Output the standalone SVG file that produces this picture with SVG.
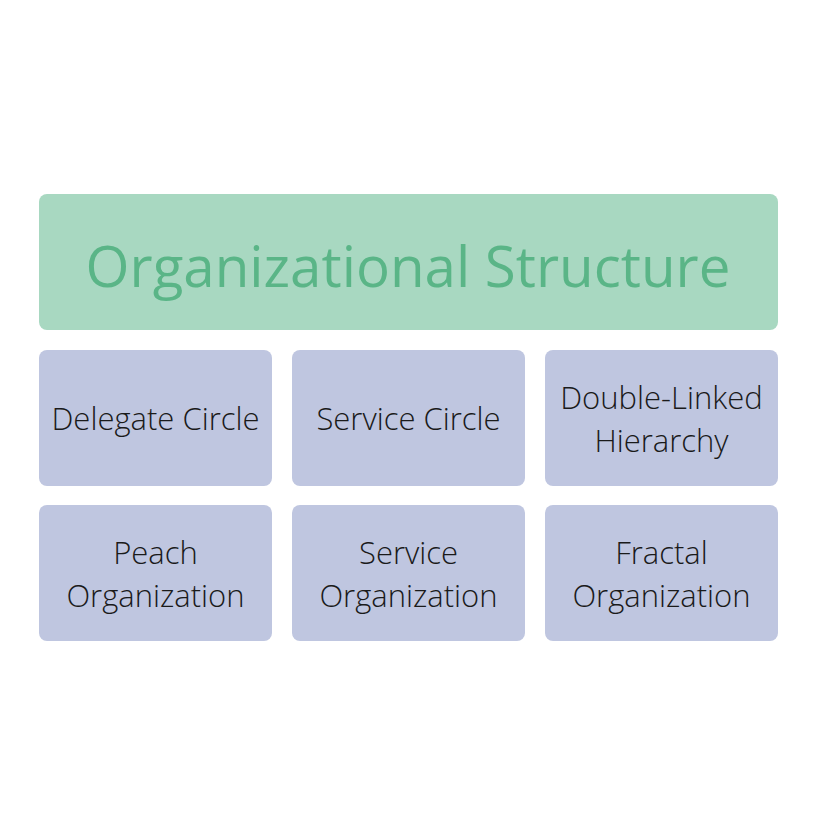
<svg xmlns="http://www.w3.org/2000/svg" width="816" height="836" viewBox="0 0 816 836">
<style>
.b{fill:#bfc6e0}
.t{font-family:"Open Sans","Liberation Sans",sans-serif;font-weight:300;font-size:31px;fill:#1a1a1a;text-anchor:middle}
</style>
<rect width="816" height="836" fill="#ffffff"/>
<g id="title">
<rect x="39" y="194" width="739" height="136" rx="8" fill="#a8d8c1"/>
<text x="408" y="287" font-family="Open Sans, Liberation Sans, sans-serif" font-size="56.5" fill="#5ab587" text-anchor="middle">Organizational Structure</text>
</g>
<g id="connectors"></g>
<g id="delegate-circle">
<rect class="b" x="39" y="350" width="233" height="136" rx="8"/>
<text class="t" x="155.5" y="430">Delegate Circle</text>
</g>
<g id="service-circle">
<rect class="b" x="292" y="350" width="233" height="136" rx="8"/>
<text class="t" x="408.5" y="430">Service Circle</text>
</g>
<g id="double-linked">
<rect class="b" x="545" y="350" width="233" height="136" rx="8"/>
<text class="t" x="661.5" y="409">Double-Linked</text>
<text class="t" x="661.5" y="452">Hierarchy</text>
</g>
<g id="peach">
<rect class="b" x="39" y="505" width="233" height="136" rx="8"/>
<text class="t" x="155.5" y="564">Peach</text>
<text class="t" x="155.5" y="607">Organization</text>
</g>
<g id="service-org">
<rect class="b" x="292" y="505" width="233" height="136" rx="8"/>
<text class="t" x="408.5" y="564">Service</text>
<text class="t" x="408.5" y="607">Organization</text>
</g>
<g id="fractal">
<rect class="b" x="545" y="505" width="233" height="136" rx="8"/>
<text class="t" x="661.5" y="564">Fractal</text>
<text class="t" x="661.5" y="607">Organization</text>
</g>
</svg>
